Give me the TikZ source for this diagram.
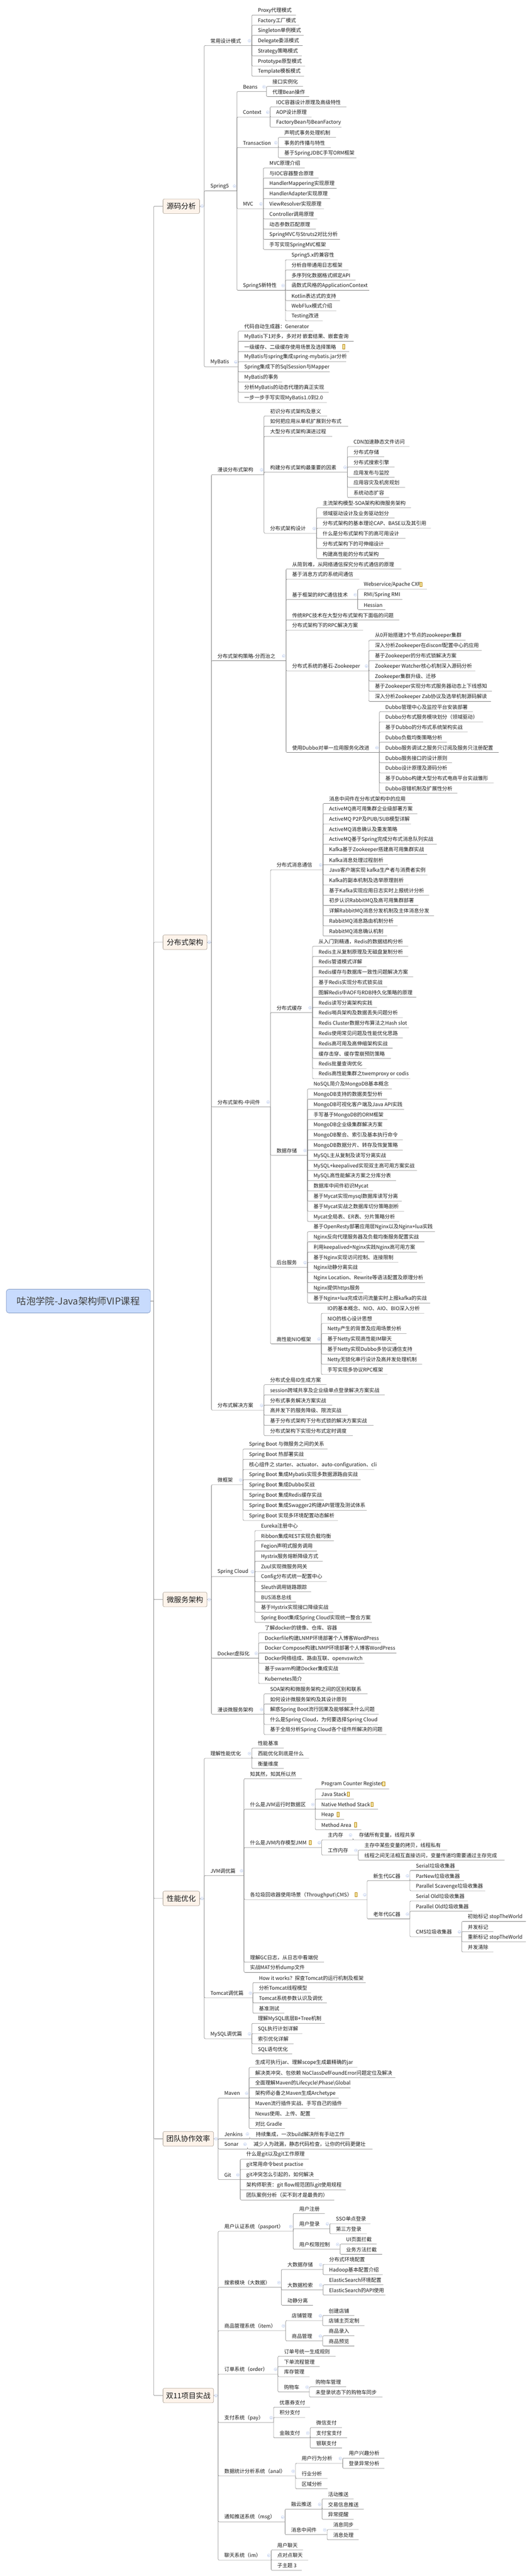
\documentclass[tikz,border=0pt]{standalone}
\usepackage{fontspec}
\setmainfont{Noto Sans CJK SC}
\definecolor{linegray}{HTML}{808080}
\definecolor{foldblue}{HTML}{B4C6EC}
\definecolor{rootfill}{HTML}{C8DBFD}
\definecolor{rootedge}{HTML}{7F97C4}
\definecolor{majorfill}{HTML}{FDF3EA}
\definecolor{majoredge}{HTML}{A89C90}
\definecolor{notefill}{HTML}{F7E9A8}
\definecolor{noteedge}{HTML}{B8860B}
\definecolor{inkgray}{HTML}{1A1A1A}

\newcommand{\fold}[1]{\node[fold] (#1-f) at ([shift={(-6.5pt,13pt)}]#1.south east) {\rule{4.4pt}{0.7pt}};}
\newcommand{\kidsbare}[3]{%
	\foreach \nm/\yy/\xe/\txt in {#3}{
		\pgfmathsetmacro\boxw{(\xe-#2)*0.93176}
		\node[topic] (\nm) at (#2,\yy) {\makebox[\boxw pt][l]{\hspace{17pt}\txt}};
		\draw[link] (#1.south east) |- (\nm.south east);
	}}
\newcommand{\kids}[3]{\fold{#1}\kidsbare{#1}{#2}{#3}}
\newcommand{\leaves}[4]{\fold{#1}%
	\foreach \xe/\txt [count=\i from 0] in {#4}{
		\pgfmathsetmacro\boxw{(\xe-#2)*0.93176}
		\node[topic] (#1-\i) at (#2,{#3+28*\i}) {\makebox[\boxw pt][l]{\hspace{17pt}\txt}};
		\draw[link] (#1.south east) |- (#1-\i.south east);
	}}

\begin{document}
\begin{tikzpicture}[x=0.93176pt,y=-1pt]
\tikzstyle{topic} = [anchor=south west, inner sep=0pt, minimum height=25pt, text=inkgray, font=\fontsize{14pt}{16pt}\selectfont]
\tikzstyle{hub} = [inner sep=0pt, minimum size=0pt]
\tikzstyle{link} = [draw=linegray, line width=0.9pt, rounded corners=3pt]
\tikzstyle{fold} = [circle, draw=foldblue, fill=white, line width=0.7pt, minimum size=8pt, inner sep=0pt, text=foldblue, font=\fontsize{6pt}{6pt}\selectfont]
\tikzstyle{major} = [anchor=west, rectangle, rounded corners=4pt, draw=majoredge, fill=majorfill, line width=0.9pt, minimum height=40pt, text=inkgray, font=\fontsize{20pt}{24pt}\selectfont]
\tikzstyle{noteicon} = [rectangle, draw=noteedge, fill=notefill, line width=0.8pt, minimum width=6pt, minimum height=12pt, inner sep=0pt]
\useasboundingbox (0,0) rectangle (1568,7074);

\node[anchor=west, rectangle, rounded corners=7pt, draw=rootedge, fill=rootfill, line width=1pt, minimum width=396pt, minimum height=65pt, text=black!75, font=\fontsize{26pt}{30pt}\selectfont] (root) at (18,3573) {咕泡学院-Java架构师VIP课程};
\node[hub] (rootbus) at (453,3573) {};
\draw[link] (root.east) -- (rootbus);

\node[major, minimum width=100.6pt] (src) at (480,566.3) {源码分析};
\node[major, minimum width=121pt] (dist) at (480,2587.5) {分布式架构};
\node[major, minimum width=121pt] (micro) at (480,4392.5) {微服务架构};
\node[major, minimum width=100.6pt] (perf) at (480,5213.3) {性能优化};
\node[major, minimum width=139pt] (team) at (480,5873.4) {团队协作效率};
\node[major, minimum width=139pt] (proj) at (480,6578.4) {双11项目实战};
\foreach \lv/\bx in {src/602,dist/623,micro/623,perf/602,team/643,proj/643}{
	\draw[link] (rootbus) |- (\lv.west);
	\node[hub] (\lv bus) at (\lv.east -| \bx*0.93176pt,0) {};
	\draw[link] (\lv.east) -- (\lv bus);
	\node[fold] (\lv-f) at ([xshift=-5.6pt]\lv bus) {\rule{4.4pt}{0.7pt}};
}

\kidsbare{srcbus}{602}{
	pattern/125.1/742/常用设计模式,
	spring/524.2/698/Spring5,
	mybatis/1007.3/702/MyBatis}
\leaves{pattern}{742}{41.3}{872/Proxy代理模式,882/Factory工厂模式,895/Singleton单例模式,892/Delegate委派模式,889/Strategy策略模式,899/Prototype原型模式,896/Template模板模式}
\kids{spring}{698}{
	beans/251.4/785/Beans,
	context/321.4/796/Context,
	trans/405.2/820/Transaction,
	mvc/573.2/776/MVC,
	springnew/797.3/841/Spring5新特性}
\leaves{beans}{785}{237.3}{893/接口实例化,911/代理Bean操作}
\leaves{context}{796}{293.4}{1021/IOC容器设计原理及高级特性,918/AOP设计原理,1006/FactoryBean与BeanFactory}
\leaves{trans}{820}{377.2}{990/声明式事务处理机制,975/事务的传播与特性,1050/基于SpringJDBC手写ORM框架}
\leaves{mvc}{776}{461.2}{898/MVC原理介绍,939/与IOC容器整合原理,992/HandlerMappering实现原理,973/HandlerAdapter实现原理,955/ViewResolver实现原理,935/Controller调用原理,931/动态参数匹配原理,1002/SpringMVC与Struts2对比分析,971/手写实现SpringMVC框架}
\leaves{springnew}{841}{713.3}{995/Spring5.x的兼容性,1027/分析自带通用日志框架,1048/多序列化数据格式绑定API,1088/函数式风格的ApplicationContext,1002/Kotlin表达式的支持,991/WebFlux模式介绍,951/Testing改进}
\leaves{mybatis}{702}{909.2}{923/代码自动生成器：Generator,1042/MyBatis下1对多，多对对 嵌套结果、嵌套查询,1029/一级缓存、二级缓存使用场景及选择策略,1020/MyBatis与spring集成spring-mybatis.jar分析,972/Spring集成下的SqlSession与Mapper,831/MyBatis的事务,969/分析MyBatis的动态代理的真正实现,963/一步一步手写实现MyBatis1.0到2.0}

\kidsbare{distbus}{623}{
	talk/1303.3/778/漫谈分布式架构,
	divide/1814.4/843/分布式架构策略-分而治之,
	middle/3039.4/797/分布式架构-中间件,
	solution/3872.4/778/分布式解决方案}
\kids{talk}{778}{
	talka/1142.3/964/初识分布式架构及意义,
	talkb/1170.3/1026/如何把应用从单机扩展到分布式,
	talkc/1198.3/979/大型分布式架构演进过程,
	factor/1296.4/1024/构建分布式架构最重要的因素,
	design/1464.4/933/分布式架构设计}
\leaves{factor}{1024}{1226.4}{1207/CDN加速静态文件访问,1132/分布式存储,1163/分布式搜索引擎,1163/应用发布与监控,1194/应用容灾及机房规划,1147/系统动态扩容}
\leaves{design}{933}{1394.4}{1211/主流架构模型-SOA架构和微服务架构,1163/领域驱动设计及业务驱动划分,1270/分布式架构的基本理论CAP、BASE以及其引用,1195/什么是分布式架构下的高可用设计,1148/分布式架构下的可伸缩设计,1133/构建高性能的分布式架构}
\kids{divide}{843}{
	comma/1562.4/1183/从简到难，从网络通信探究分布式通信的原理,
	commb/1590.4/1059/基于消息方式的系统间通信,
	rpc/1646.4/1054/基于框架的RPC通信技术,
	commd/1702.4/1177/传统RPC技术在大型分布式架构下面临的问题,
	comme/1730.4/1070/分布式架构下的RPC解决方案,
	zoo/1842.3/1087/分布式系统的基石-Zookeeper,
	dubbo/2066.3/1118/使用Dubbo对单一应用服务化改进}
\leaves{rpc}{1054}{1618.4}{1258/{Webservice/Apache CXF},1186/{RMI/Spring RMI},1136/Hessian}
\leaves{zoo}{1087}{1758.3}{1372/从0开始搭建3个节点的zookeeper集群,1420/深入分析Zookeeper在disconf配置中心的应用,1358/基于Zookeeper的分布式锁解决方案,1401/Zookeeper Watcher核心机制深入源码分析,1297/Zookeeper集群升级、迁移,1450/基于Zookeeper实现分布式服务器动态上下线感知,1447/深入分析Zookeeper Zab协议及选举机制源码解读}
\leaves{dubbo}{1118}{1954.3}{1394/Dubbo管理中心及监控平台安装部署,1424/Dubbo分布式服务模块划分（领域驱动）,1378/基于Dubbo的分布式系统架构实战,1317/Dubbo负载均衡策略分析,1470/Dubbo服务调试之服务只订阅及服务只注册配置,1332/Dubbo服务接口的设计原则,1332/Dubbo设计原理及源码分析,1455/基于Dubbo构建大型分布式电商平台实战雏形,1348/Dubbo容错机制及扩展性分析}
\kids{middle}{797}{
	mq/2388.4/952/分布式消息通信,
	cache/2780.4/921/分布式缓存,
	store/3172.4/906/数据存储,
	backend/3480.4/906/后台服务,
	nio/3690.4/947/高性能NIO框架}
\leaves{mq}{952}{2206.4}{1214/消息中间件在分布式架构中的应用,1230/ActiveMQ高可用集群企业级部署方案,1211/{ActiveMQ P2P及PUB/SUB模型详解},1184/ActiveMQ消息确认及重发策略,1287/ActiveMQ基于Spring完成分布式消息队列实战,1259/Kafka基于Zookeeper搭建高可用集群实战,1143/Kafka消息处理过程剖析,1260/Java客户端实现 kafka生产者与消费者实例,1204/Kafka的副本机制及选举原理剖析,1265/基于Kafka实现应用日志实时上报统计分析,1233/初步认识RabbitMQ及高可用集群部署,1279/详解RabbitMQ消息分发机制及主体消息分发,1172/RabbitMQ消息路由机制分析,1141/RabbitMQ消息确认机制}
\leaves{cache}{921}{2598.4}{1203/从入门到精通，Redis的数据结构分析,1203/Redis主从复制原理及无磁盘复制分析,1080/Redis管道模式详解,1218/Redis缓存与数据库一致性问题解决方案,1141/基于Redis实现分布式锁实战,1227/图解Redis中AOF与RDB持久化策略的原理,1111/Redis读写分离架构实践,1187/Redis哨兵架构及数据丢失问题分析,1205/Redis Cluster数据分布算法之Hash slot,1187/Redis使用常见问题及性能优化思路,1157/Redis高可用及高伸缩架构实战,1152/缓存击穿、缓存雪崩预防策略,1080/Redis批量查询优化,1209/Redis高性能集群之twemproxy or codis}
\leaves{store}{906}{2990.4}{1155/NoSQL简介及MongoDB基本概念,1141/MongoDB支持的数据类型分析,1191/MongoDB可视化客户端及Java API实践,1142/手写基于MongoDB的ORM框架,1141/MongoDB企业级集群解决方案,1187/MongoDB聚合、索引及基本执行命令,1187/MongoDB数据分片、转存及恢复策略,1152/MySQL主从复制及读写分离实战,1229/MySQL+keepalived实现双主高可用方案实战,1167/MySQL高性能解决方案之分库分表,1099/数据库中间件初识Mycat,1184/基于Mycat实现mysql数据库读写分离,1191/基于Mycat实战之数据库切分策略剖析,1177/Mycat全局表、ER表、分片策略分析}
\leaves{backend}{906}{3382.4}{1282/基于OpenResty部署应用层Nginx以及Nginx+lua实践,1251/Nginx反向代理服务器及负载均衡服务配置实战,1229/利用keepalived+Nginx实践Nginx高可用方案,1174/基于Nginx实现访问控制、连接限制,1067/Nginx动静分离实战,1253/Nginx Location、Rewrite等语法配置及原理分析,1070/Nginx提供https服务,1268/基于Nginx+lua完成访问流量实时上报kafka的实战}
\leaves{nio}{947}{3606.4}{1250/IO的基本概念、NIO、AIO、BIO深入分析,1111/NIO的核心设计思想,1198/Netty产生的背景及应用场景分析,1168/基于Netty实现高性能IM聊天,1227/基于Netty实现Dubbo多协议通信支持,1244/Netty无锁化串行设计及高并发处理机制,1142/手写实现多协议RPC框架}
\leaves{solution}{778}{3802.4}{962/分布式全局ID生成方案,1134/session跨域共享及企业级单点登录解决方案实战,979/分布式事务解决方案实战,1025/高并发下的服务降级、限流实战,1101/基于分布式架构下分布式锁的解决方案实战,1040/分布式架构下实现分布式定时调度}

\kidsbare{microbus}{623}{
	boot/4077.2/716/微框架,
	cloud/4329.2/751/Spring Cloud,
	docker/4553.4/762/Docker虚拟化,
	talkmicro/4707.4/778/漫谈微服务架构}
\leaves{boot}{716}{3979.2}{965/Spring Boot 与微服务之间的关系,904/Spring Boot 热部署实战,1103/核心组件之 starter、actuator、auto-configuration、cli,1063/Spring Boot 集成Mybatis实现多数据源路由实战,933/Spring Boot 集成Dubbo实战,954/Spring Boot 集成Redis缓存实战,1081/Spring Boot 集成Swagger2构建API管理及测试体系,996/Spring Boot 实现多环境配置动态解析}
\leaves{cloud}{751}{4203.2}{890/Eureka注册中心,984/Ribbon集成REST实现负载均衡,934/Fegion声明式服务调用,951/Hystrix服务熔断降级方式,920/Zuul实现微服务网关,963/Config分布式统一配置中心,917/Sleuth调用链路跟踪,872/BUS消息总线,982/基于Hystrix实现接口降级实战,1096/Spring Boot集成Spring Cloud实现统一整合方案}
\leaves{docker}{762}{4483.4}{1007/了解docker的镜像、仓库、容器,1123/Dockerfile构建LNMP环境部署个人博客WordPress,1168/Docker Compose构建LNMP环境部署个人博客WordPress,1074/Docker网络组成、路由互联、openvswitch,1002/基于swarm构建Docker集成实战,899/Kubernetes简介}
\leaves{talkmicro}{778}{4651.4}{1083/SOA架构和微服务架构之间的区别和联系,1040/如何设计微服务架构及其设计原则,1116/解惑Spring Boot流行因果及能够解决什么问题,1114/什么是Spring Cloud，为何要选择Spring Cloud,1139/基于全局分析Spring Cloud各个组件所解决的问题}

\kidsbare{perfbus}{602}{
	tune/4828.4/742/理解性能优化,
	jvm/5150.4/719/JVM调优篇,
	tomcat/5486.4/745/Tomcat调优篇,
	mysql/5598.4/742/MySQL调优篇}
\leaves{tune}{742}{4800.4}{836/性能基准,911/西能优化到底是什么,836/衡量维度}
\kids{jvm}{719}{
	know/4884.4/890/知其然，知其所以然,
	rundata/4968.4/929/什么是JVM运行时数据区,
	jmm/5073.4/948/什么是JVM内存模型JMM,
	gc/5216.4/1082/各垃圾回收器使用场景（Throughput\textbackslash CMS）,
	gclog/5388.4/955/理解GC日志，从日志中看端倪,
	mat/5416.4/911/实战MAT分析dump文件}
\leaves{rundata}{929}{4912.4}{1147/Program Counter Register,1043/Java Stack,1114/Native Method Stack,1014/Heap,1065/Method Area}
\kids{jmm}{948}{
	mainmem/5052.4/1040/主内存,
	workmem/5094.4/1056/工作内存}
\leaves{mainmem}{1040}{5052.4}{1241/存储所有变量，线程共享}
\leaves{workmem}{1056}{5080.4}{1318/主存中某些变量的拷贝，线程私有,1487/线程之间无法相互直接访问，变量传递均需要通过主存完成}
\kids{gc}{1082}{
	younggc/5164.4/1208/新生代GC器,
	oldgc/5269.4/1208/老年代GC器}
\leaves{younggc}{1208}{5136.4}{1353/Serial垃圾收集器,1368/ParNew垃圾收集器,1430/Parallel Scavenge垃圾收集器}
\kids{oldgc}{1208}{
	serialold/5220.4/1379/Serial Old垃圾收集器,
	parold/5248.4/1392/Parallel Old垃圾收集器,
	cms/5318.4/1361/CMS垃圾收集器}
\leaves{cms}{1361}{5276.4}{1550/初始标记 stopTheWorld,1454/并发标记,1550/重新标记 stopTheWorld,1454/并发清除}
\leaves{tomcat}{745}{5444.4}{1078/How it works？探查Tomcat的运行机制及框架,917/分析Tomcat线程模型,963/Tomcat系统参数认识及调优,838/基准测试}
\leaves{mysql}{742}{5556.4}{957/理解MySQL底层B+Tree机制,891/SQL执行计划详解,865/索引优化详解,861/SQL语句优化}

\kidsbare{teambus}{643}{
	maven/5761.4/734/Maven,
	jenkins/5873.4/736/Jenkins,
	sonar/5901.4/729/Sonar,
	git/5985.4/708/Git}
\leaves{maven}{734}{5677.4}{1053/生成可执行jar、理解scope生成最精确的jar,1165/解决类冲突、包依赖 NoClassDefFoundError问题定位及解决,1033/全面理解Maven的Lifecycle\textbackslash Phase\textbackslash Global,998/架构师必备之Maven生成Archetype,1024/Maven流行插件实战、手写自己的插件,929/Nexus使用、上传、配置,840/对比 Gradle}
\leaves{jenkins}{736}{5873.4}{1031/持续集成，一次build解决所有手动工作}
\leaves{sonar}{729}{5901.4}{1098/减少人为疏漏，静态代码检查，让你的代码更健壮}
\leaves{git}{708}{5929.4}{910/什么是git以及git工作原理,901/git常用命令best practise,940/git冲突怎么引起的，如何解决,1019/架构师职责：git flow规范团队git使用规程,985/团队案例分析（买不到才是最贵的）}

\kidsbare{projbus}{643}{
	passport/6127.3/864/用户认证系统（pasport）,
	search/6281.3/829/搜索模块（大数据）,
	item/6400.3/842/商品管理系统（item）,
	order/6519.5/819/订单系统（order）,
	pay/6652.3/806/支付系统（pay）,
	anal/6799.3/871/数据统计分析系统（anal）,
	msg/6925.3/840/通知推送系统（msg）,
	im/7030.3/799/聊天系统（im）}
\kids{passport}{864}{
	register/6078.3/957/用户注册,
	login/6120.3/972/用户登录,
	auth/6176.4/1002/用户权限控制}
\leaves{login}{972}{6106.3}{1092/SSO单点登录,1081/第三方登录}
\leaves{auth}{1002}{6162.4}{1110/UI页面拦截,1126/业务方法拦截}
\kids{search}{829}{
	bigstore/6232.2/952/大数据存储,
	bigfind/6288.3/952/大数据检索,
	split/6330.4/922/动静分离}
\leaves{bigstore}{952}{6218.2}{1092/分布式环境配置,1128/Hadoop基本配置介绍}
\leaves{bigfind}{952}{6274.3}{1130/ElasticSearch环境配置,1136/ElasticSearch的API使用}
\kids{item}{842}{
	shop/6372.4/951/店铺管理,
	goods/6428.3/951/商品管理}
\leaves{shop}{951}{6358.4}{1044/创建店铺,1074/店铺主页定制}
\leaves{goods}{951}{6414.3}{1044/商品录入,1044/商品预览}
\kids{order}{819}{
	orderno/6470.4/989/订单号统一生成规则,
	place/6498.4/942/下单流程管理,
	stock/6526.5/912/库存管理,
	cart/6568.4/912/购物车}
\leaves{cart}{912}{6554.4}{1020/购物车管理,1127/未登录状态下的购物车同步}
\kids{pay}{806}{
	coupon/6610.4/914/优惠券支付,
	points/6638.3/899/积分支付,
	finance/6694.4/914/金融支付}
\leaves{finance}{914}{6666.4}{1008/微信支付,1023/支付宝支付,1008/银联支付}
\kids{anal}{871}{
	behave/6764.2/1010/用户行为分析,
	trade/6806.3/965/行业分析,
	region/6834.4/965/区域分析}
\leaves{behave}{1010}{6750.2}{1133/用户兴趣分析,1133/登录异常分析}
\kids{msg}{840}{
	rong/6890.3/949/融云推送,
	queue/6960.4/964/消息中间件}
\leaves{rong}{949}{6862.3}{1042/活动推送,1072/交易信息推送,1042/异常提醒}
\leaves{queue}{964}{6946.4}{1057/消息同步,1057/消息处理}
\leaves{im}{799}{7002.3}{893/用户聊天,908/点对点聊天,889/子主题 3}

\foreach \nx/\ny [count=\i] in {1013/952,1241/1604.5,1131/4898.7,1027/4926.7,1097/4954.7,997/4982.7,1048/5010.7,915/5060,1050/5202.7}{
	\node[noteicon] (note\i) at (\nx,\ny) {};
}
\end{tikzpicture}
\end{document}
